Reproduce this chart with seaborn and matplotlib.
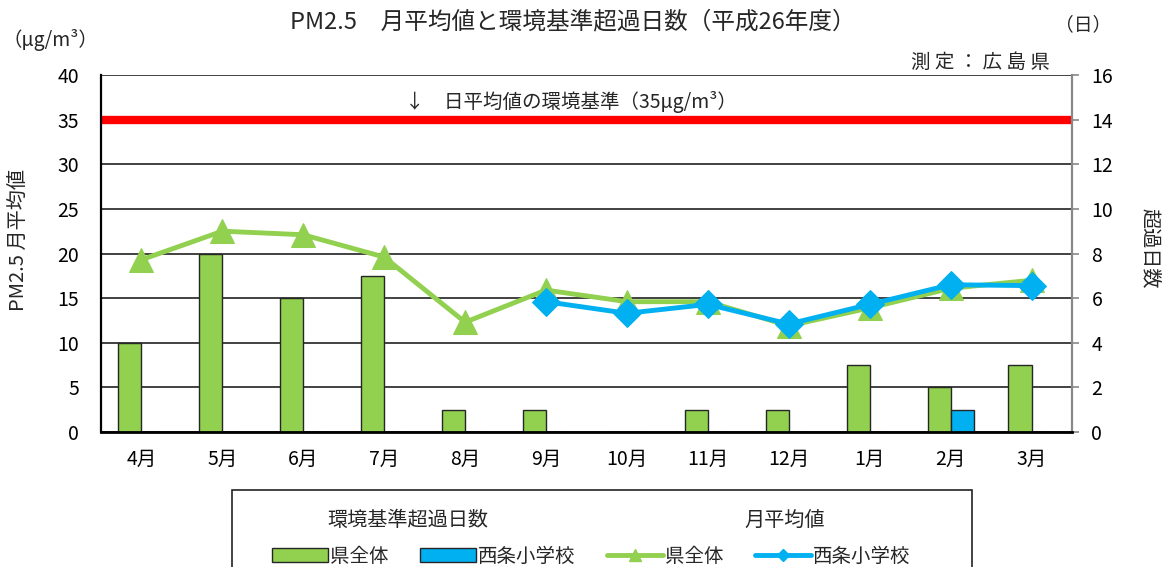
import numpy as np
import pandas as pd
import matplotlib
matplotlib.use("Agg")
import matplotlib.pyplot as plt
from matplotlib.lines import Line2D
from matplotlib.patches import Patch, Rectangle
import seaborn as sns

months = ["4月", "5月", "6月", "7月", "8月", "9月", "10月", "11月", "12月", "1月", "2月", "3月"]
days_pref = [4, 8, 6, 7, 1, 1, 0, 1, 1, 3, 2, 3]
days_saijo = [0, 0, 0, 0, 0, 0, 0, 0, 0, 0, 1, 0]
avg_pref = [19.3, 22.5, 22.1, 19.6, 12.3, 15.9, 14.6, 14.6, 11.9, 13.9, 16.1, 17.0]
avg_saijo = [np.nan, np.nan, np.nan, np.nan, np.nan, 14.6, 13.3, 14.3, 12.1, 14.3, 16.5, 16.4]
groups = ["県全体", "西条小学校"]
standard = 35

GREEN = "#92D050"
BLUE = "#00B0F0"
RED = "#FF0000"

sns.set_theme(style="white")
FONT = ["Noto Sans CJK JP", "DejaVu Sans"]
plt.rcParams["font.family"] = FONT

df = pd.DataFrame({
    "month": months * 2,
    "days": days_pref + days_saijo,
    "group": [groups[0]] * 12 + [groups[1]] * 12,
})

fig = plt.figure(figsize=(11.7, 5.67), dpi=100)
ax = fig.add_axes([101 / 1170, 1 - 432 / 567, (1072 - 101) / 1170, (432 - 75) / 567])

sns.barplot(data=df, x="month", y="days", hue="group", order=months, hue_order=groups,
            palette={groups[0]: GREEN, groups[1]: BLUE}, width=0.57, gap=0,
            edgecolor="#262626", linewidth=1.0, saturation=1, legend=False, ax=ax)
ax.set_ylim(0, 16)
ax.set_yticks(np.arange(0, 17, 2))
ax.set_axisbelow(True)
ax.yaxis.grid(True, color="#333333", linewidth=1.3)
ax.xaxis.grid(False)
ax.set_xlabel("")
ax.set_ylabel("")
for s in ax.spines.values():
    s.set_visible(False)

ax2 = ax.twinx()
# move bar (days) axis to the right, line (concentration) axis to the left
ax.yaxis.tick_right()
ax.yaxis.set_label_position("right")
ax.tick_params(axis="y", which="both", left=False, right=True, labelleft=False, labelright=True,
               length=5, width=1.2, color="#888888", pad=9, labelsize=14, labelcolor="black")
ax.tick_params(axis="x", length=0, pad=12, labelsize=14, labelcolor="black")

pos = np.arange(len(months))
sns.lineplot(x=pos, y=avg_pref, color=GREEN, linewidth=3.5, marker="^", markersize=17,
             markeredgecolor=GREEN, sort=False, ax=ax2)
sns.lineplot(x=pos, y=avg_saijo, color=BLUE, linewidth=3.5, marker="D", markersize=14,
             markeredgecolor=BLUE, sort=False, ax=ax2)
ax2.axhline(standard, color=RED, linewidth=6, zorder=1)
ax2.set_ylim(0, 40)
ax2.set_yticks(np.arange(0, 41, 5))
ax2.yaxis.tick_left()
ax2.yaxis.set_label_position("left")
ax2.tick_params(axis="y", left=False, right=False, labelleft=True, labelright=False,
                length=0, pad=16, labelsize=14, labelcolor="black")
ax2.set_xlim(-0.5, 11.5)
ax2.set_xlabel("")
ax2.set_ylabel("")
ax2.grid(False)
ax2.spines["top"].set_visible(False)
ax2.spines["left"].set_color("black")
ax2.spines["left"].set_linewidth(1.6)
ax2.spines["bottom"].set_color("black")
ax2.spines["bottom"].set_linewidth(2.0)
ax2.spines["right"].set_color("#888888")
ax2.spines["right"].set_linewidth(1.6)

ax2.text(3.26, 37.0, "↓　日平均値の環境基準（35μg/m³）", ha="left", va="center",
         fontsize=14, family=FONT)

fig.text(573 / 1170, 1 - 22 / 567, "PM2.5　月平均値と環境基準超過日数（平成26年度）",
         ha="center", va="center", fontsize=17, family=FONT)
fig.text(50 / 1170, 1 - 40 / 567, "（μg/m³）", ha="center", va="center", fontsize=14, family=FONT)
fig.text(1083 / 1170, 1 - 25 / 567, "（日）", ha="center", va="center", fontsize=13.5, family=FONT)
fig.text(1050 / 1170, 1 - 62 / 567, "測 定 ： 広 島 県", ha="right", va="center", fontsize=14, family=FONT)
fig.text(18 / 1170, 1 - 240 / 567, "PM2.5 月平均値", ha="center", va="center", rotation=90,
         fontsize=14.5, family=FONT)
fig.text(1150 / 1170, 1 - 248 / 567, "超過日数", ha="center", va="center", rotation=-90,
         fontsize=14.5, family=FONT)

# legend frame and headers
fig.patches.append(Rectangle((232 / 1170, -0.1), (972 - 232) / 1170, 0.1 + (1 - 490 / 567),
                             transform=fig.transFigure, fill=False, edgecolor="#222222",
                             linewidth=1.2, zorder=0))
fig.text(408 / 1170, 1 - 520 / 567, "環境基準超過日数", ha="center", va="center", fontsize=14.5, family=FONT)
fig.text(785 / 1170, 1 - 520 / 567, "月平均値", ha="center", va="center", fontsize=14.5, family=FONT)

handles = [
    Patch(facecolor=GREEN, edgecolor="#262626", linewidth=1.0),
    Patch(facecolor=BLUE, edgecolor="#262626", linewidth=1.0),
    Line2D([], [], color=GREEN, linewidth=3.5, marker="^", markersize=8),
    Line2D([], [], color=BLUE, linewidth=3.5, marker="D", markersize=6),
]
labels = [groups[0], groups[1], groups[0], groups[1]]
fig.legend(handles, labels, ncol=4, loc="center", bbox_to_anchor=(591 / 1170, 1 - 556 / 567),
           frameon=False, handlelength=2.9, handleheight=0.7, handletextpad=0.1,
           columnspacing=1.6, borderaxespad=0, prop={"family": FONT, "size": 14})

fig.savefig("out.png", dpi=100)
